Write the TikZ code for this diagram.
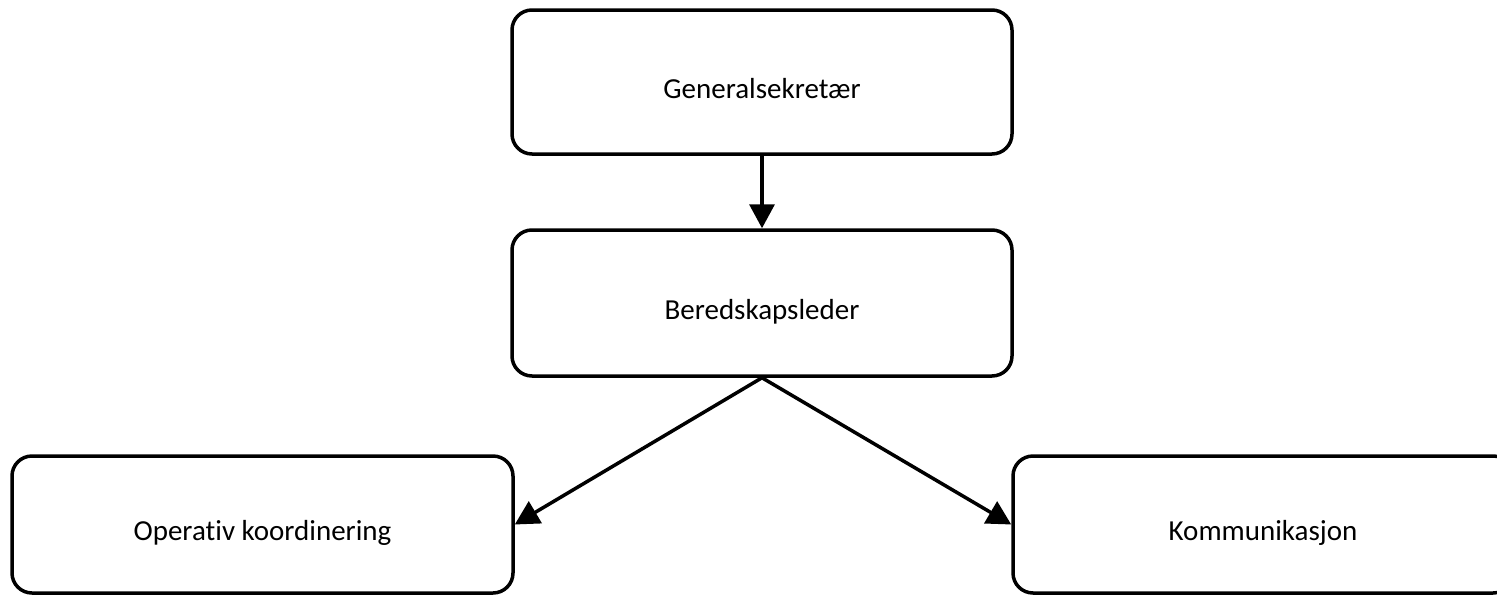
\documentclass[tikz,border=0pt]{standalone}
\usepackage{fontspec}
\setmainfont[Ligatures=NoCommon]{Carlito}
\usetikzlibrary{arrows.meta}
\tikzset{>={Triangle[length=24pt,width=25pt]}}
\tikzset{boks/.style={draw,line width=3.5pt,rounded corners=20pt,minimum width=500pt,minimum height=144pt,text height=32pt,text depth=0pt,font=\fontsize{29}{35}\selectfont}}

\begin{document}
\begin{tikzpicture}[line join=round,x=1pt,y=-1pt]
	\clip (0,0) rectangle (1497,595);
	\node[boks] (gen) at (762,82) {Generalsekretær};
	\node[boks,minimum height=146pt] (bered) at (762,303) {Beredskapsleder};
	\node[boks,minimum width=501pt,minimum height=137pt] (op) at (262.5,524.5) {Operativ koordinering};
	\node[boks,minimum height=137pt] (komm) at (1263,524.5) {Kommunikasjon};
	\draw[->,line width=3.5pt] (gen) -- (bered);
	\draw[->,line width=3.5pt] (bered.south) -- (op.east);
	\draw[->,line width=3.5pt] (bered.south) -- (komm.west);
\end{tikzpicture}
\end{document}
